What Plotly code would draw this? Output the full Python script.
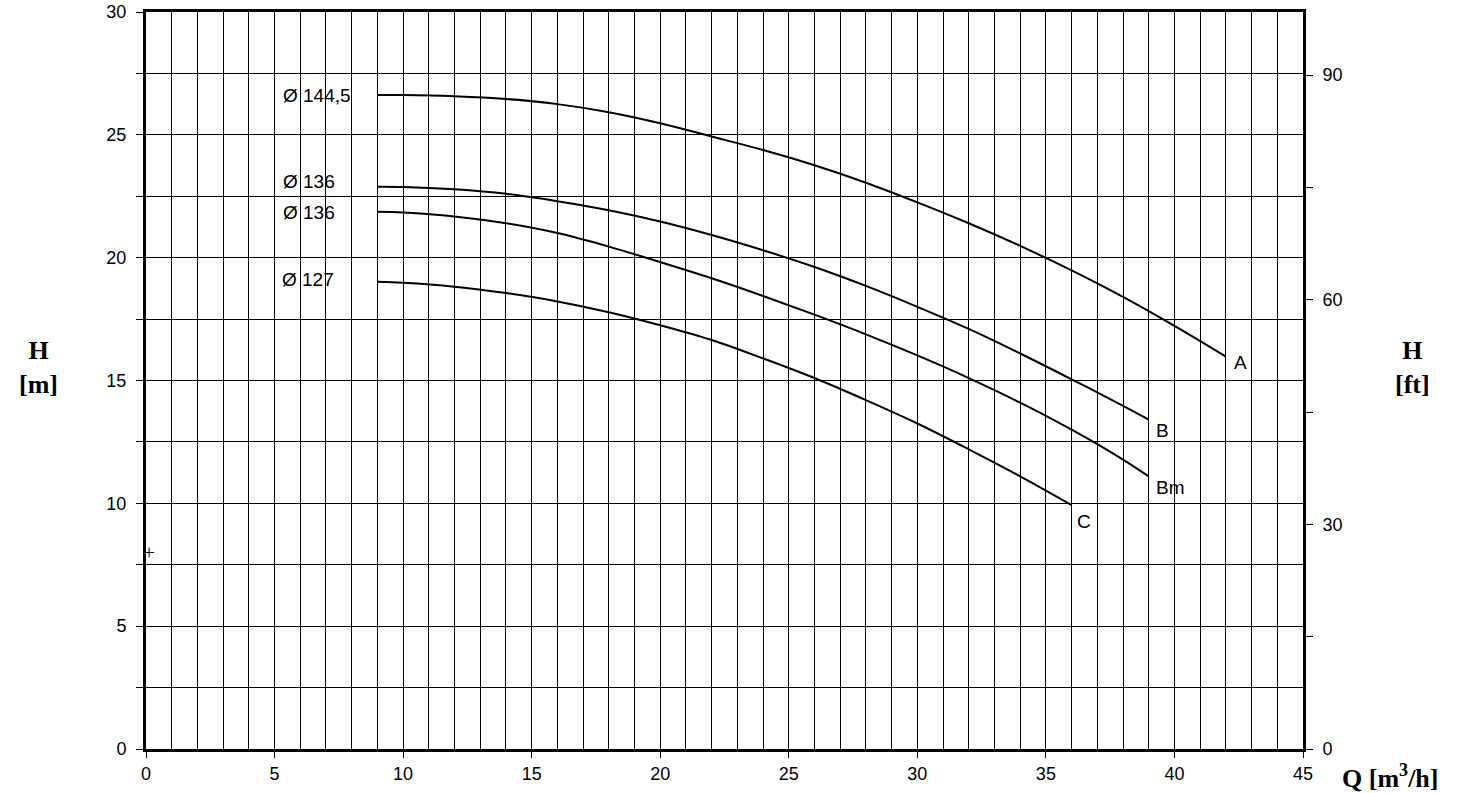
import plotly.graph_objects as go

# Flow Q [m3/h] and head H [m]
q_a = [9, 10, 12, 14, 16, 18, 20, 22, 24, 26, 28, 30, 32, 34, 36, 38, 40, 42]
h_a = [26.62, 26.62, 26.57, 26.46, 26.25, 25.92, 25.47, 24.93, 24.38, 23.76, 23.05, 22.25, 21.4, 20.48, 19.48, 18.4, 17.22, 15.97]

q_b = [9, 10, 12, 14, 16, 18, 20, 22, 24, 26, 28, 30, 32, 34, 36, 38, 39]
h_b = [22.89, 22.88, 22.78, 22.6, 22.3, 21.93, 21.47, 20.92, 20.3, 19.62, 18.85, 18.0, 17.1, 16.1, 15.05, 13.97, 13.41]

q_bm = [9, 10, 12, 14, 16, 18, 20, 22, 24, 26, 28, 30, 32, 34, 36, 37, 38, 39]
h_bm = [21.87, 21.84, 21.68, 21.4, 21.0, 20.45, 19.82, 19.16, 18.44, 17.68, 16.88, 16.02, 15.1, 14.1, 13.0, 12.41, 11.78, 11.1]

q_c = [9, 10, 12, 14, 16, 18, 20, 22, 24, 26, 28, 30, 32, 34, 36]
h_c = [19.02, 18.98, 18.82, 18.56, 18.22, 17.78, 17.25, 16.65, 15.9, 15.1, 14.2, 13.25, 12.2, 11.1, 9.93]

curves = [(q_a, h_a), (q_b, h_b), (q_bm, h_bm), (q_c, h_c)]

# Impeller diameter labels (left of curves)
dia_labels = ["Ø 144,5", "Ø 136", "Ø 136", "Ø 127"]
dia_q = [5.25, 5.25, 5.25, 5.2]
dia_h = [26.62, 23.1, 21.85, 19.1]

# Curve end labels
end_labels = ["A", "B", "Bm", "C"]
end_q = [42.25, 39.2, 39.2, 36.15]
end_h = [15.75, 12.98, 10.66, 9.28]

# small cross mark near origin
cross_q = [0.12]
cross_h = [8.0]

x_ticks = [0, 5, 10, 15, 20, 25, 30, 35, 40, 45]
y_ticks = [0, 5, 10, 15, 20, 25, 30]
ft_ticks = [0, 30, 60, 90]
M_TO_FT = 3.28084

fig = go.Figure()
for q, h in curves:
    fig.add_trace(go.Scatter(x=q, y=h, mode="lines",
                             line=dict(color="black", width=2, shape="spline", smoothing=1.0),
                             hoverinfo="skip", showlegend=False))

fig.add_trace(go.Scatter(x=cross_q, y=cross_h, mode="markers",
                         marker=dict(symbol="cross-thin", size=7, line=dict(color="black", width=1)),
                         showlegend=False, hoverinfo="skip"))

# invisible trace on secondary axis
fig.add_trace(go.Scatter(x=[0], y=[0], yaxis="y2", mode="markers", marker=dict(opacity=0),
                         showlegend=False, hoverinfo="skip"))

lab_font = dict(family="Liberation Sans, Arial", size=19, color="black")
for t, q, h in zip(dia_labels, dia_q, dia_h):
    fig.add_annotation(x=q, y=h, text=t, showarrow=False, xanchor="left", yanchor="middle", font=lab_font)
for t, q, h in zip(end_labels, end_q, end_h):
    fig.add_annotation(x=q, y=h, text=t, showarrow=False, xanchor="left", yanchor="middle", font=lab_font)

title_font = dict(family="Liberation Serif, Times New Roman", size=26, color="black")
fig.add_annotation(xref="paper", yref="paper", x=-0.093, y=0.518, text="<b>H<br>[m]</b>", showarrow=False,
                   xanchor="center", yanchor="middle", font=title_font)
fig.add_annotation(xref="paper", yref="paper", x=1.095, y=0.518, text="<b>H<br>[ft]</b>", showarrow=False,
                   xanchor="center", yanchor="middle", font=title_font)
fig.add_annotation(xref="paper", yref="paper", x=1.075, y=-0.037, text="<b>Q [m<sup>3</sup>/h]</b>",
                   showarrow=False, xanchor="center", yanchor="middle", font=title_font)

tick_font = dict(family="Liberation Sans, Arial", size=18, color="black")

fig.update_layout(
    width=1463, height=793,
    margin=dict(l=146, r=160, t=12, b=44, autoexpand=False),
    paper_bgcolor="white", plot_bgcolor="white",
    xaxis=dict(range=[0, 45], tickvals=x_ticks, ticktext=[str(v) for v in x_ticks],
               ticks="outside", ticklen=6, tickcolor="black", tickwidth=1,
               showgrid=True, gridcolor="black", gridwidth=1,
               minor=dict(dtick=1, showgrid=True, gridcolor="black", gridwidth=1, ticks=""),
               showline=True, linecolor="black", linewidth=3, mirror=True,
               zeroline=False, tickfont=tick_font, automargin=False),
    yaxis=dict(range=[0, 30], tickvals=y_ticks, ticktext=[str(v) for v in y_ticks],
               ticks="outside", ticklen=7, tickcolor="black", tickwidth=1,
               showgrid=True, gridcolor="black", gridwidth=1,
               minor=dict(dtick=2.5, showgrid=True, gridcolor="black", gridwidth=1,
                          ticks="outside", ticklen=7, tickcolor="black", tickwidth=1),
               showline=True, linecolor="black", linewidth=3, mirror=True,
               zeroline=False, tickfont=tick_font, ticklabelstandoff=6, automargin=False,
               ticklabeloverflow="allow"),
    yaxis2=dict(range=[0, 30 * M_TO_FT], overlaying="y", side="right",
                tickvals=ft_ticks, ticktext=[str(v) for v in ft_ticks],
                ticks="outside", ticklen=7, tickcolor="black", tickwidth=1,
                minor=dict(dtick=15, ticks="outside", ticklen=7, tickcolor="black", tickwidth=1,
                           showgrid=False),
                showgrid=False, zeroline=False, showline=True, linecolor="black", linewidth=3,
                tickfont=tick_font, ticklabelstandoff=6, automargin=False),
    showlegend=False,
)

fig.write_html("out.html", config={"displayModeBar": False},
               post_script="document.body.style.margin='0px';")
